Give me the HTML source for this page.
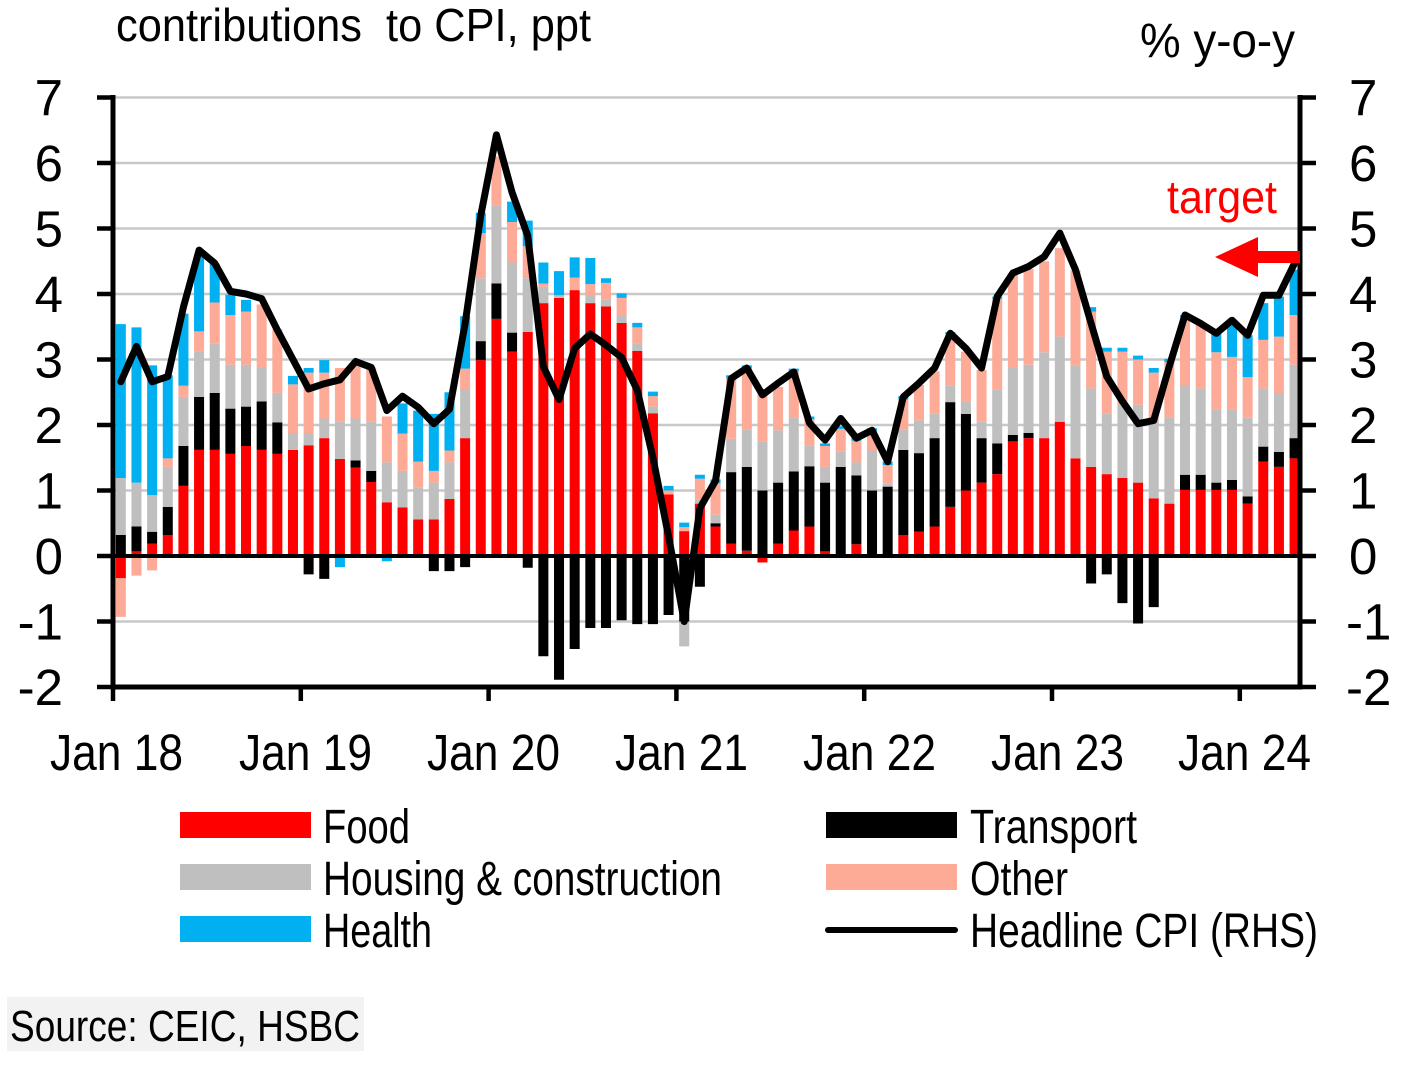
<!DOCTYPE html>
<html>
<head>
<meta charset="utf-8">
<style>
html,body{margin:0;padding:0;background:#fff;}
body{width:1419px;height:1067px;overflow:hidden;}
svg{display:block;}
text{font-family:"Liberation Sans Narrow","Liberation Sans",Arial,sans-serif;fill:#000;}
</style>
</head>
<body>
<svg width="1419" height="1067" viewBox="0 0 1419 1067" xmlns="http://www.w3.org/2000/svg">
<rect x="0" y="0" width="1419" height="1067" fill="#fff"/>

<!-- titles -->
<text x="116" y="41" font-size="46" textLength="475" lengthAdjust="spacingAndGlyphs">contributions&#160; to CPI, ppt</text>
<text x="1140" y="57" font-size="48" textLength="155" lengthAdjust="spacingAndGlyphs">% y-o-y</text>

<!-- gridlines -->
<g stroke="#c8c8c8" stroke-width="2.5">
<line x1="113" y1="97.5" x2="1300" y2="97.5"/>
<line x1="113" y1="163" x2="1300" y2="163"/>
<line x1="113" y1="228.5" x2="1300" y2="228.5"/>
<line x1="113" y1="294" x2="1300" y2="294"/>
<line x1="113" y1="359.5" x2="1300" y2="359.5"/>
<line x1="113" y1="425" x2="1300" y2="425"/>
<line x1="113" y1="490.5" x2="1300" y2="490.5"/>
<line x1="113" y1="621.5" x2="1300" y2="621.5"/>
</g>

<!-- bars -->
<g transform="translate(113,556) scale(15.65,-65.5)">
<path fill="#ff0000" d="M0.18 -.34h.64v.34h-.64zM1.18 0h.64v.07h-.64zM2.18 0h.64v.19h-.64zM3.18 0h.64v.32h-.64zM4.18 0h.64v1.07h-.64zM5.18 0h.64v1.62h-.64zM6.18 0h.64v1.62h-.64zM7.18 0h.64v1.56h-.64zM8.18 0h.64v1.68h-.64zM9.18 0h.64v1.62h-.64zM10.18 0h.64v1.56h-.64zM11.18 0h.64v1.62h-.64zM12.18 0h.64v1.69h-.64zM13.18 0h.64v1.8h-.64zM14.18 0h.64v1.48h-.64zM15.18 0h.64v1.35h-.64zM16.18 0h.64v1.13h-.64zM17.18 0h.64v.82h-.64zM18.18 0h.64v.74h-.64zM19.18 0h.64v.56h-.64zM20.18 0h.64v.56h-.64zM21.18 0h.64v.87h-.64zM22.18 0h.64v1.8h-.64zM23.18 0h.64v2.99h-.64zM24.18 0h.64v3.62h-.64zM25.18 0h.64v3.12h-.64zM26.18 0h.64v3.42h-.64zM27.18 0h.64v3.86h-.64zM28.18 0h.64v3.94h-.64zM29.18 0h.64v4.06h-.64zM30.18 0h.64v3.86h-.64zM31.18 0h.64v3.81h-.64zM32.18 0h.64v3.56h-.64zM33.18 0h.64v3.13h-.64zM34.18 0h.64v2.18h-.64zM35.18 0h.64v.94h-.64zM36.18 0h.64v.38h-.64zM37.18 0h.64v.8h-.64zM38.18 0h.64v.45h-.64zM39.18 0h.64v.19h-.64zM40.18 0h.64v.08h-.64zM41.18 -.1h.64v.1h-.64zM42.18 0h.64v.19h-.64zM43.18 0h.64v.39h-.64zM44.18 0h.64v.45h-.64zM45.18 0h.64v.07h-.64zM47.18 0h.64v.18h-.64zM50.18 0h.64v.32h-.64zM51.18 0h.64v.37h-.64zM52.18 0h.64v.45h-.64zM53.18 0h.64v.75h-.64zM54.18 0h.64v1h-.64zM55.18 0h.64v1.12h-.64zM56.18 0h.64v1.25h-.64zM57.18 0h.64v1.75h-.64zM58.18 0h.64v1.8h-.64zM59.18 0h.64v1.8h-.64zM60.18 0h.64v2.05h-.64zM61.18 0h.64v1.49h-.64zM62.18 0h.64v1.36h-.64zM63.18 0h.64v1.25h-.64zM64.18 0h.64v1.19h-.64zM65.18 0h.64v1.12h-.64zM66.18 0h.64v.88h-.64zM67.18 0h.64v.8h-.64zM68.18 0h.64v1.01h-.64zM69.18 0h.64v1.01h-.64zM70.18 0h.64v1.01h-.64zM71.18 0h.64v1.01h-.64zM72.18 0h.64v.8h-.64zM73.18 0h.64v1.44h-.64zM74.18 0h.64v1.36h-.64zM75.18 0h.64v1.49h-.64z"/>
<path fill="#000000" d="M0.18 0h.64v.32h-.64zM1.18 .07h.64v.38h-.64zM2.18 .19h.64v.18h-.64zM3.18 .32h.64v.43h-.64zM4.18 1.07h.64v.61h-.64zM5.18 1.62h.64v.81h-.64zM6.18 1.62h.64v.87h-.64zM7.18 1.56h.64v.69h-.64zM8.18 1.68h.64v.6h-.64zM9.18 1.62h.64v.74h-.64zM10.18 1.56h.64v.48h-.64zM12.18 -.28h.64v.28h-.64zM13.18 -.35h.64v.35h-.64zM15.18 1.35h.64v.11h-.64zM16.18 1.13h.64v.17h-.64zM20.18 -.23h.64v.23h-.64zM21.18 -.23h.64v.23h-.64zM22.18 -.17h.64v.17h-.64zM23.18 2.99h.64v.29h-.64zM24.18 3.62h.64v.54h-.64zM25.18 3.12h.64v.29h-.64zM26.18 -.18h.64v.18h-.64zM27.18 -1.53h.64v1.53h-.64zM28.18 -1.89h.64v1.89h-.64zM29.18 -1.42h.64v1.42h-.64zM30.18 -1.1h.64v1.1h-.64zM31.18 -1.1h.64v1.1h-.64zM32.18 -.98h.64v.98h-.64zM33.18 -1.04h.64v1.04h-.64zM34.18 -1.04h.64v1.04h-.64zM35.18 -.9h.64v.9h-.64zM36.18 -1h.64v1h-.64zM37.18 -.47h.64v.47h-.64zM38.18 .45h.64v.05h-.64zM39.18 .19h.64v1.09h-.64zM40.18 .08h.64v1.28h-.64zM41.18 0h.64v1h-.64zM42.18 .19h.64v.93h-.64zM43.18 .39h.64v.9h-.64zM44.18 .45h.64v.92h-.64zM45.18 .07h.64v1.05h-.64zM46.18 0h.64v1.36h-.64zM47.18 .18h.64v1.05h-.64zM48.18 0h.64v1h-.64zM49.18 0h.64v1.06h-.64zM50.18 .32h.64v1.3h-.64zM51.18 .37h.64v1.2h-.64zM52.18 .45h.64v1.35h-.64zM53.18 .75h.64v1.6h-.64zM54.18 1h.64v1.17h-.64zM55.18 1.12h.64v.68h-.64zM56.18 1.25h.64v.47h-.64zM57.18 1.75h.64v.1h-.64zM58.18 1.8h.64v.08h-.64zM62.18 -.42h.64v.42h-.64zM63.18 -.28h.64v.28h-.64zM64.18 -.72h.64v.72h-.64zM65.18 -1.03h.64v1.03h-.64zM66.18 -.78h.64v.78h-.64zM68.18 1.01h.64v.23h-.64zM69.18 1.01h.64v.23h-.64zM70.18 1.01h.64v.11h-.64zM71.18 1.01h.64v.15h-.64zM72.18 .8h.64v.11h-.64zM73.18 1.44h.64v.23h-.64zM74.18 1.36h.64v.23h-.64zM75.18 1.49h.64v.31h-.64z"/>
<path fill="#bfbfbf" d="M0.18 .32h.64v.87h-.64zM1.18 .45h.64v.67h-.64zM2.18 .37h.64v.56h-.64zM3.18 .75h.64v.61h-.64zM4.18 1.68h.64v.75h-.64zM5.18 2.43h.64v.69h-.64zM6.18 2.49h.64v.75h-.64zM7.18 2.25h.64v.67h-.64zM8.18 2.28h.64v.64h-.64zM9.18 2.36h.64v.51h-.64zM10.18 2.04h.64v.45h-.64zM11.18 1.62h.64v.25h-.64zM12.18 1.69h.64v.18h-.64zM13.18 1.8h.64v.3h-.64zM14.18 1.48h.64v.57h-.64zM15.18 1.46h.64v.64h-.64zM16.18 1.3h.64v.75h-.64zM17.18 .82h.64v.61h-.64zM18.18 .74h.64v.56h-.64zM19.18 .56h.64v.49h-.64zM20.18 .56h.64v.56h-.64zM21.18 .87h.64v.56h-.64zM22.18 1.8h.64v.75h-.64zM23.18 3.28h.64v.96h-.64zM24.18 4.16h.64v1.19h-.64zM25.18 3.41h.64v1.07h-.64zM26.18 3.42h.64v.82h-.64zM27.18 3.86h.64v.25h-.64zM28.18 3.94h.64v.04h-.64zM30.18 3.86h.64v.11h-.64zM31.18 3.81h.64v.11h-.64zM32.18 3.56h.64v.12h-.64zM33.18 3.13h.64v.12h-.64zM34.18 2.18h.64v.1h-.64zM36.18 -1.38h.64v.38h-.64zM37.18 .8h.64v.06h-.64zM38.18 .5h.64v.13h-.64zM39.18 1.28h.64v.51h-.64zM40.18 1.36h.64v.57h-.64zM41.18 1h.64v.75h-.64zM42.18 1.12h.64v.8h-.64zM43.18 1.29h.64v.83h-.64zM44.18 1.37h.64v.32h-.64zM45.18 1.12h.64v.24h-.64zM46.18 1.36h.64v.24h-.64zM47.18 1.23h.64v.2h-.64zM48.18 1h.64v.61h-.64zM49.18 1.06h.64v.05h-.64zM50.18 1.62h.64v.31h-.64zM51.18 1.57h.64v.5h-.64zM52.18 1.8h.64v.38h-.64zM53.18 2.35h.64v.25h-.64zM54.18 2.17h.64v.19h-.64zM55.18 1.8h.64v.25h-.64zM56.18 1.72h.64v.82h-.64zM57.18 1.85h.64v1.02h-.64zM58.18 1.88h.64v1.04h-.64zM59.18 1.8h.64v1.31h-.64zM60.18 2.05h.64v1.3h-.64zM61.18 1.49h.64v1.42h-.64zM62.18 1.36h.64v1.2h-.64zM63.18 1.25h.64v.93h-.64zM64.18 1.19h.64v1.12h-.64zM65.18 1.12h.64v1.19h-.64zM66.18 .88h.64v1.17h-.64zM67.18 .8h.64v1.32h-.64zM68.18 1.24h.64v1.37h-.64zM69.18 1.24h.64v1.32h-.64zM70.18 1.12h.64v1.11h-.64zM71.18 1.16h.64v1.07h-.64zM72.18 .91h.64v1.2h-.64zM73.18 1.67h.64v.89h-.64zM74.18 1.59h.64v.89h-.64zM75.18 1.8h.64v1.12h-.64z"/>
<path fill="#fdaa96" d="M0.18 -.93h.64v.59h-.64zM1.18 -.3h.64v.3h-.64zM2.18 -.22h.64v.22h-.64zM3.18 1.36h.64v.13h-.64zM4.18 2.43h.64v.17h-.64zM5.18 3.12h.64v.31h-.64zM6.18 3.24h.64v.63h-.64zM7.18 2.92h.64v.76h-.64zM8.18 2.92h.64v.81h-.64zM9.18 2.87h.64v.97h-.64zM10.18 2.49h.64v.97h-.64zM11.18 1.87h.64v.75h-.64zM12.18 1.87h.64v.93h-.64zM13.18 2.1h.64v.7h-.64zM14.18 2.05h.64v.82h-.64zM15.18 2.1h.64v.86h-.64zM16.18 2.05h.64v.83h-.64zM17.18 1.43h.64v.7h-.64zM18.18 1.3h.64v.57h-.64zM19.18 1.05h.64v.39h-.64zM20.18 1.12h.64v.18h-.64zM21.18 1.43h.64v.18h-.64zM22.18 2.55h.64v.31h-.64zM23.18 4.24h.64v.69h-.64zM24.18 5.35h.64v.75h-.64zM25.18 4.48h.64v.62h-.64zM26.18 4.24h.64v.49h-.64zM27.18 4.11h.64v.05h-.64zM29.18 4.06h.64v.19h-.64zM30.18 3.97h.64v.18h-.64zM31.18 3.92h.64v.25h-.64zM32.18 3.68h.64v.26h-.64zM33.18 3.25h.64v.24h-.64zM34.18 2.28h.64v.16h-.64zM35.18 .94h.64v.06h-.64zM36.18 .38h.64v.06h-.64zM37.18 .86h.64v.32h-.64zM38.18 .63h.64v.48h-.64zM39.18 1.79h.64v.92h-.64zM40.18 1.93h.64v.93h-.64zM41.18 1.75h.64v.76h-.64zM42.18 1.92h.64v.66h-.64zM43.18 2.12h.64v.7h-.64zM44.18 1.69h.64v.4h-.64zM45.18 1.36h.64v.32h-.64zM46.18 1.6h.64v.34h-.64zM47.18 1.43h.64v.33h-.64zM48.18 1.61h.64v.3h-.64zM49.18 1.11h.64v.28h-.64zM50.18 1.93h.64v.46h-.64zM51.18 2.07h.64v.54h-.64zM52.18 2.18h.64v.64h-.64zM53.18 2.6h.64v.79h-.64zM54.18 2.36h.64v.76h-.64zM55.18 2.05h.64v.79h-.64zM56.18 2.54h.64v1.39h-.64zM57.18 2.87h.64v1.45h-.64zM58.18 2.92h.64v1.46h-.64zM59.18 3.11h.64v1.39h-.64zM60.18 3.35h.64v1.35h-.64zM61.18 2.91h.64v1.45h-.64zM62.18 2.56h.64v1.17h-.64zM63.18 2.18h.64v.94h-.64zM64.18 2.31h.64v.81h-.64zM65.18 2.31h.64v.69h-.64zM66.18 2.05h.64v.75h-.64zM67.18 2.12h.64v.84h-.64zM68.18 2.61h.64v1.04h-.64zM69.18 2.56h.64v.99h-.64zM70.18 2.23h.64v.88h-.64zM71.18 2.23h.64v.81h-.64zM72.18 2.11h.64v.62h-.64zM73.18 2.56h.64v.74h-.64zM74.18 2.48h.64v.87h-.64zM75.18 2.92h.64v.76h-.64z"/>
<path fill="#00b0f0" d="M0.18 1.19h.64v2.35h-.64zM1.18 1.12h.64v2.37h-.64zM2.18 .93h.64v1.98h-.64zM3.18 1.49h.64v1.27h-.64zM4.18 2.6h.64v1.1h-.64zM5.18 3.43h.64v1.15h-.64zM6.18 3.87h.64v.59h-.64zM7.18 3.68h.64v.31h-.64zM8.18 3.73h.64v.18h-.64zM11.18 2.62h.64v.13h-.64zM12.18 2.8h.64v.07h-.64zM13.18 2.8h.64v.19h-.64zM14.18 -.17h.64v.17h-.64zM15.18 -.03h.64v.03h-.64zM17.18 -.08h.64v.08h-.64zM18.18 1.87h.64v.46h-.64zM19.18 1.44h.64v.78h-.64zM20.18 1.3h.64v.87h-.64zM21.18 1.61h.64v.89h-.64zM22.18 2.86h.64v.8h-.64zM23.18 4.93h.64v.31h-.64zM25.18 5.1h.64v.31h-.64zM26.18 4.73h.64v.39h-.64zM27.18 4.16h.64v.32h-.64zM28.18 3.98h.64v.37h-.64zM29.18 4.25h.64v.31h-.64zM30.18 4.15h.64v.4h-.64zM31.18 4.17h.64v.07h-.64zM32.18 3.94h.64v.07h-.64zM33.18 3.49h.64v.07h-.64zM34.18 2.44h.64v.07h-.64zM35.18 1h.64v.07h-.64zM36.18 .44h.64v.07h-.64zM37.18 1.18h.64v.06h-.64zM38.18 1.11h.64v.06h-.64zM39.18 2.71h.64v.05h-.64zM40.18 2.86h.64v.05h-.64zM41.18 2.51h.64v.04h-.64zM43.18 2.82h.64v.04h-.64zM44.18 2.09h.64v.04h-.64zM45.18 1.68h.64v.04h-.64zM46.18 1.94h.64v.04h-.64zM47.18 1.76h.64v.05h-.64zM48.18 1.91h.64v.04h-.64zM49.18 1.39h.64v.05h-.64zM50.18 2.39h.64v.05h-.64zM53.18 3.39h.64v.03h-.64zM56.18 3.93h.64v.03h-.64zM62.18 3.73h.64v.07h-.64zM63.18 3.12h.64v.06h-.64zM64.18 3.12h.64v.06h-.64zM65.18 3h.64v.06h-.64zM66.18 2.8h.64v.07h-.64zM67.18 2.96h.64v.05h-.64zM68.18 3.65h.64v.03h-.64zM70.18 3.11h.64v.3h-.64zM71.18 3.04h.64v.51h-.64zM72.18 2.73h.64v.64h-.64zM73.18 3.3h.64v.56h-.64zM74.18 3.35h.64v.61h-.64zM75.18 3.68h.64v.69h-.64z"/>
</g>

<!-- zero line -->
<line x1="113" y1="556" x2="1300" y2="556" stroke="#000" stroke-width="4"/>

<!-- axes -->
<g stroke="#000" stroke-width="5">
<line x1="113" y1="95" x2="113" y2="689"/>
<line x1="1300" y1="95" x2="1300" y2="689"/>
<line x1="110.5" y1="687" x2="1302.5" y2="687"/>
</g>
<g stroke="#000" stroke-width="4.5">
<line x1="97" y1="97.5" x2="113" y2="97.5"/>
<line x1="97" y1="163" x2="113" y2="163"/>
<line x1="97" y1="228.5" x2="113" y2="228.5"/>
<line x1="97" y1="294" x2="113" y2="294"/>
<line x1="97" y1="359.5" x2="113" y2="359.5"/>
<line x1="97" y1="425" x2="113" y2="425"/>
<line x1="97" y1="490.5" x2="113" y2="490.5"/>
<line x1="97" y1="556" x2="113" y2="556"/>
<line x1="97" y1="621.5" x2="113" y2="621.5"/>
<line x1="97" y1="687" x2="113" y2="687"/>
<line x1="1300" y1="97.5" x2="1316" y2="97.5"/>
<line x1="1300" y1="163" x2="1316" y2="163"/>
<line x1="1300" y1="228.5" x2="1316" y2="228.5"/>
<line x1="1300" y1="294" x2="1316" y2="294"/>
<line x1="1300" y1="359.5" x2="1316" y2="359.5"/>
<line x1="1300" y1="425" x2="1316" y2="425"/>
<line x1="1300" y1="490.5" x2="1316" y2="490.5"/>
<line x1="1300" y1="556" x2="1316" y2="556"/>
<line x1="1300" y1="621.5" x2="1316" y2="621.5"/>
<line x1="1300" y1="687" x2="1316" y2="687"/>
<line x1="113" y1="687" x2="113" y2="701"/>
<line x1="300.8" y1="687" x2="300.8" y2="701"/>
<line x1="488.6" y1="687" x2="488.6" y2="701"/>
<line x1="676.4" y1="687" x2="676.4" y2="701"/>
<line x1="864.2" y1="687" x2="864.2" y2="701"/>
<line x1="1052" y1="687" x2="1052" y2="701"/>
<line x1="1239.8" y1="687" x2="1239.8" y2="701"/>
</g>

<!-- CPI line -->
<g transform="translate(113,556) scale(15.65,-65.5)">
<polyline fill="none" stroke="#000" stroke-width="7" stroke-linejoin="round" stroke-linecap="round" vector-effect="non-scaling-stroke" points=".5,2.66 1.5,3.2 2.5,2.66 3.5,2.74 4.5,3.8 5.5,4.67 6.5,4.47 7.5,4.04 8.5,4 9.5,3.93 10.5,3.45 11.5,3 12.5,2.55 13.5,2.63 14.5,2.69 15.5,2.97 16.5,2.88 17.5,2.22 18.5,2.44 19.5,2.27 20.5,2.02 21.5,2.24 22.5,3.55 23.5,5.2 24.5,6.43 25.5,5.55 26.5,4.89 27.5,2.89 28.5,2.39 29.5,3.17 30.5,3.39 31.5,3.22 32.5,3.03 33.5,2.53 34.5,1.5 35.5,.3 36.5,-1 37.5,.73 38.5,1.15 39.5,2.71 40.5,2.87 41.5,2.46 42.5,2.64 43.5,2.81 44.5,2.03 45.5,1.77 46.5,2.1 47.5,1.8 48.5,1.92 49.5,1.44 50.5,2.43 51.5,2.64 52.5,2.87 53.5,3.4 54.5,3.17 55.5,2.87 56.5,3.96 57.5,4.32 58.5,4.42 59.5,4.57 60.5,4.93 61.5,4.37 62.5,3.55 63.5,2.74 64.5,2.36 65.5,2.02 66.5,2.07 67.5,2.9 68.5,3.68 69.5,3.55 70.5,3.4 71.5,3.6 72.5,3.37 73.5,3.98 74.5,3.98 75.5,4.47"/>
</g>

<!-- target arrow -->
<rect x="1256" y="251" width="44" height="12" fill="#ff0000"/>
<polygon points="1215,257 1258,237 1258,277" fill="#ff0000"/>
<text x="1167" y="213" font-size="46" textLength="110" lengthAdjust="spacingAndGlyphs" style="fill:#ff0000">target</text>

<!-- left axis labels -->
<g font-size="51" text-anchor="end">
<text x="63" y="115.5">7</text>
<text x="63" y="181">6</text>
<text x="63" y="246.5">5</text>
<text x="63" y="312">4</text>
<text x="63" y="377.5">3</text>
<text x="63" y="443">2</text>
<text x="63" y="508.5">1</text>
<text x="63" y="574">0</text>
<text x="63" y="639.5">-1</text>
<text x="63" y="705">-2</text>
</g>
<!-- right axis labels -->
<g font-size="51">
<text x="1349" y="115.5">7</text>
<text x="1349" y="181">6</text>
<text x="1349" y="246.5">5</text>
<text x="1349" y="312">4</text>
<text x="1349" y="377.5">3</text>
<text x="1349" y="443">2</text>
<text x="1349" y="508.5">1</text>
<text x="1349" y="574">0</text>
<text x="1346" y="639.5">-1</text>
<text x="1346" y="705">-2</text>
</g>

<!-- x labels -->
<g font-size="51">
<text x="50" y="770" textLength="133" lengthAdjust="spacingAndGlyphs">Jan 18</text>
<text x="239" y="770" textLength="133" lengthAdjust="spacingAndGlyphs">Jan 19</text>
<text x="427" y="770" textLength="133" lengthAdjust="spacingAndGlyphs">Jan 20</text>
<text x="615" y="770" textLength="133" lengthAdjust="spacingAndGlyphs">Jan 21</text>
<text x="803" y="770" textLength="133" lengthAdjust="spacingAndGlyphs">Jan 22</text>
<text x="991" y="770" textLength="133" lengthAdjust="spacingAndGlyphs">Jan 23</text>
<text x="1178" y="770" textLength="133" lengthAdjust="spacingAndGlyphs">Jan 24</text>
</g>

<!-- legend -->
<rect x="180" y="812" width="131" height="26" fill="#ff0000"/>
<rect x="180" y="864" width="131" height="26" fill="#bfbfbf"/>
<rect x="180" y="916" width="131" height="26" fill="#00b0f0"/>
<rect x="826" y="812" width="131" height="26" fill="#000000"/>
<rect x="826" y="864" width="131" height="26" fill="#fdaa96"/>
<line x1="828" y1="930" x2="955" y2="930" stroke="#000" stroke-width="6" stroke-linecap="round"/>
<g font-size="48">
<text x="323" y="843" textLength="87" lengthAdjust="spacingAndGlyphs">Food</text>
<text x="323" y="895" textLength="399" lengthAdjust="spacingAndGlyphs">Housing &amp; construction</text>
<text x="323" y="947" textLength="109" lengthAdjust="spacingAndGlyphs">Health</text>
<text x="970" y="843" textLength="167" lengthAdjust="spacingAndGlyphs">Transport</text>
<text x="970" y="895" textLength="98" lengthAdjust="spacingAndGlyphs">Other</text>
<text x="970" y="947" textLength="348" lengthAdjust="spacingAndGlyphs">Headline CPI (RHS)</text>
</g>

<!-- source -->
<rect x="7" y="997" width="357" height="54" fill="#f2f2f2"/>
<text x="10" y="1041" font-size="44" textLength="350" lengthAdjust="spacingAndGlyphs">Source: CEIC, HSBC</text>
</svg>
</body>
</html>
